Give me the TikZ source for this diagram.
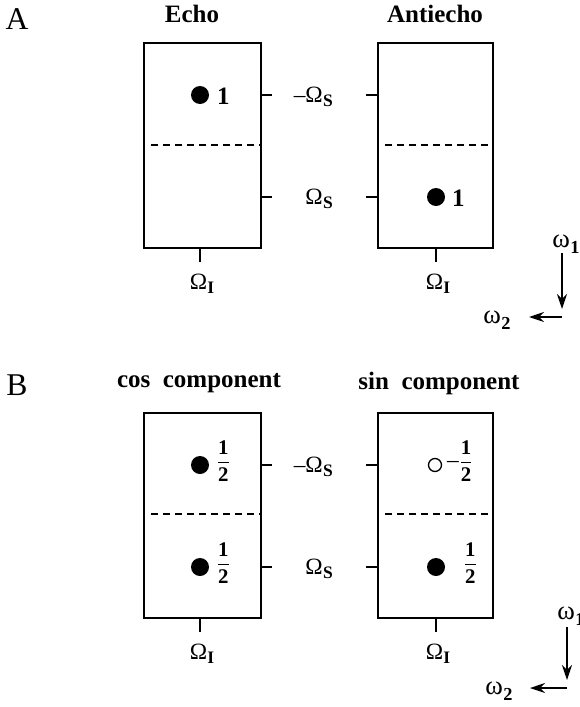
\documentclass[tikz,border=0pt]{standalone}
\usepackage{amsmath}
\usepackage{fontspec}
\setmainfont{Liberation Serif}
\usetikzlibrary{arrows.meta}

\newcommand{\Om}[1]{Ω\kern0.2pt\raisebox{-0.4ex}{\fontsize{10.5}{12}\selectfont\bfseries #1}}
\newcommand{\om}[1]{ω\kern0.2pt\raisebox{-0.45ex}{\fontsize{11}{12}\selectfont\bfseries #1}}
\newcommand{\halfbf}{$\genfrac{}{}{0.8pt}{0}{\textbf{1}}{\textbf{2}}$}

\tikzset{
  box/.style={line width=1.2pt},
  midline/.style={line width=1pt,dash pattern=on 4.2pt off 3pt},
  tick/.style={line width=1.2pt},
  title/.style={font=\fontsize{15}{17}\selectfont\bfseries},
  lbl/.style={font=\fontsize{14}{16}\selectfont, inner sep=0.5pt},
  wlbl/.style={font=\fontsize{16}{18}\selectfont, inner sep=0.5pt},
  val/.style={font=\fontsize{15}{17}\selectfont\bfseries, inner sep=0.5pt},
  frac/.style={font=\fontsize{12.5}{14}\selectfont, inner sep=0.5pt},
  panel/.style={font=\fontsize{19}{22}\selectfont, inner sep=0pt},
  peak/.style={circle,fill=black,inner sep=0pt,minimum size=10.8pt},
  negpeak/.style={circle,draw=black,line width=0.8pt,fill=white,inner sep=0pt,minimum size=7.8pt},
  axarrow/.style={line width=1.2pt,-{Stealth[length=9pt,width=6pt]}},
}

\begin{document}
\begin{tikzpicture}[x=0.6pt,y=-0.6pt]
\useasboundingbox (0,0) rectangle (579,707);

% panel A
\node[panel] (pA) at (17,19) {A};
\node[title] (echo) at (192,14) {Echo};
\node[title] (antiecho) at (435,14) {Antiecho};
\draw[box] (144,43) rectangle (261,248);
\draw[box] (378,43) rectangle (493,248);
\draw[midline] (151,145) -- (261,145);
\draw[midline] (385,145) -- (493,145);
\draw[tick] (261,95) -- (272,95);
\draw[tick] (261,197) -- (272,197);
\draw[tick] (366,95) -- (378,95);
\draw[tick] (366,197) -- (378,197);
\draw[tick] (200,248) -- (200,262);
\draw[tick] (436,248) -- (436,262);
\node[lbl,anchor=east] (mOSa) at (334,97) {–\Om{S}};
\node[lbl,anchor=east] (OSa) at (334,199) {\Om{S}};
\node[lbl] (OIa1) at (202,284) {\Om{I}};
\node[lbl] (OIa2) at (438,284) {\Om{I}};
\node[peak] (echoPk) at (200,95) {};
\node[val,anchor=west] (echoVal) at (216,96) {1};
\node[peak] (antiPk) at (436,197) {};
\node[val,anchor=west] (antiVal) at (451,198) {1};
% axes A
\coordinate (aTop) at (562,253);
\coordinate (aBot) at (562,309);
\coordinate (aCorner) at (562,317);
\coordinate (aLeft) at (529,317);
\draw[axarrow] (aTop) -- (aBot);
\draw[axarrow] (aCorner) -- (aLeft);
\node[wlbl] (w1a) at (566,244) {\om{1}};
\node[wlbl] (w2a) at (497,320) {\om{2}};

% panel B
\node[panel] (pB) at (17,385) {B};
\node[title] (cosc) at (199,383) {cos\ \ component};
\node[title] (sinc) at (439,383) {sin\ \ component};
\draw[box] (144,413) rectangle (261,618);
\draw[box] (378,413) rectangle (493,618);
\draw[midline] (151,514) -- (261,514);
\draw[midline] (385,514) -- (493,514);
\draw[tick] (261,465) -- (272,465);
\draw[tick] (261,567) -- (272,567);
\draw[tick] (366,465) -- (378,465);
\draw[tick] (366,567) -- (378,567);
\draw[tick] (200,618) -- (200,632);
\draw[tick] (436,618) -- (436,632);
\node[lbl,anchor=east] (mOSb) at (334,467) {–\Om{S}};
\node[lbl,anchor=east] (OSb) at (334,569) {\Om{S}};
\node[lbl] (OIb1) at (202,654) {\Om{I}};
\node[lbl] (OIb2) at (438,654) {\Om{I}};
\node[peak] (cosPk1) at (200,465) {};
\node[frac,anchor=west] (cosVal1) at (215,461) {\halfbf};
\node[peak] (cosPk2) at (200,567) {};
\node[frac,anchor=west] (cosVal2) at (215,563) {\halfbf};
\node[negpeak] (sinPk1) at (435,465) {};
\node[frac,anchor=west] (sinVal1) at (446,461) {{\fontsize{14}{16}\selectfont –}\halfbf};
\node[peak] (sinPk2) at (436,567) {};
\node[frac,anchor=west] (sinVal2) at (462,563) {\halfbf};
% axes B
\coordinate (bTop) at (567,627);
\coordinate (bBot) at (567,680);
\coordinate (bCorner) at (567,688);
\coordinate (bLeft) at (530,688);
\draw[axarrow] (bTop) -- (bBot);
\draw[axarrow] (bCorner) -- (bLeft);
\node[wlbl] (w1b) at (571,616) {\om{1}};
\node[wlbl] (w2b) at (499,691) {\om{2}};
\end{tikzpicture}
\end{document}
